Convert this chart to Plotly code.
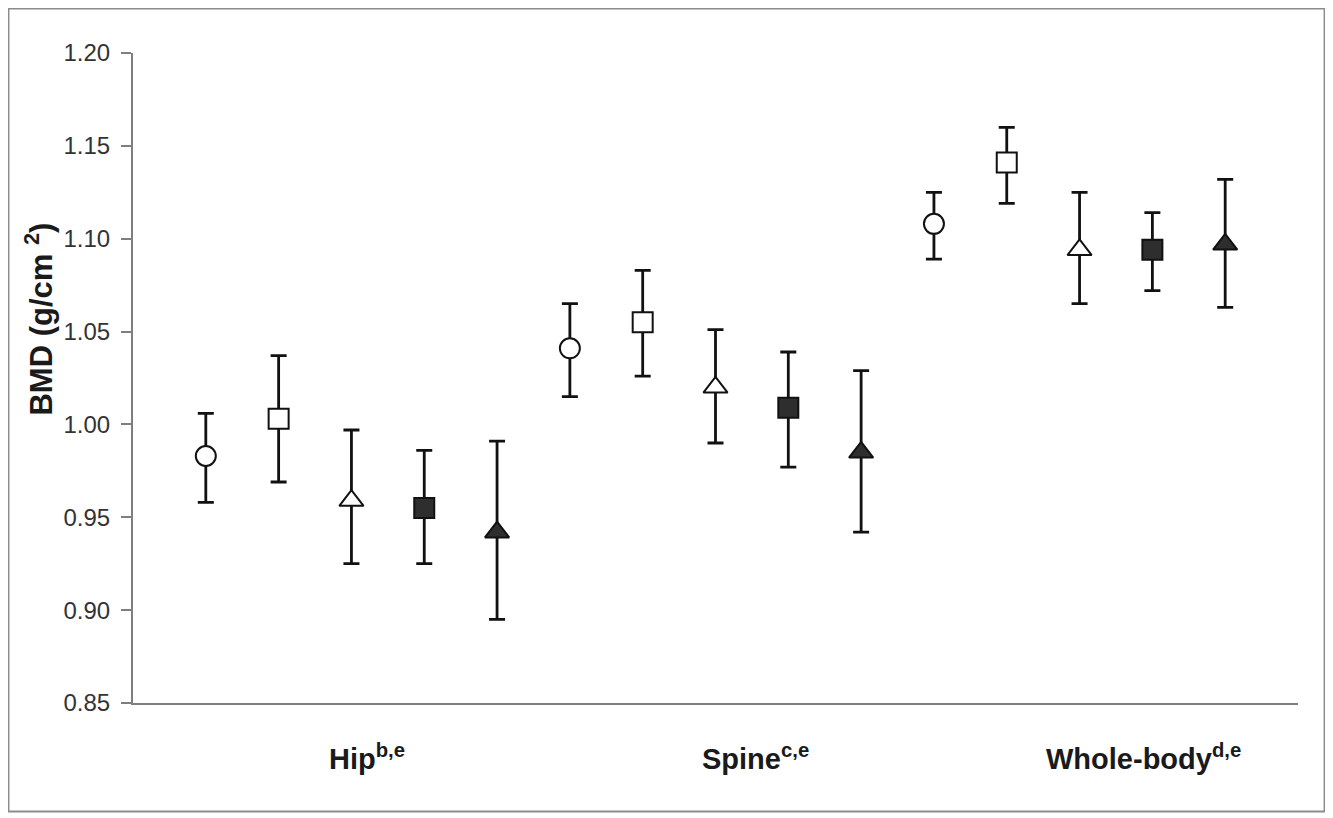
import plotly.graph_objects as go

# ---- data ----
groups = ["Hip", "Spine", "Whole-body"]
group_sup = ["b,e", "c,e", "d,e"]
series_names = ["Group 1", "Group 2", "Group 3", "Group 4", "Group 5"]

# mean BMD per group (Hip, Spine, Whole-body)
means = [
    [0.983, 1.041, 1.108],   # open circle
    [1.003, 1.055, 1.141],   # open square
    [0.959, 1.020, 1.094],   # open triangle
    [0.955, 1.009, 1.094],   # filled square
    [0.942, 0.985, 1.097],   # filled triangle
]
upper = [
    [1.006, 1.065, 1.125],
    [1.037, 1.083, 1.160],
    [0.997, 1.051, 1.125],
    [0.986, 1.039, 1.114],
    [0.991, 1.029, 1.132],
]
lower = [
    [0.958, 1.015, 1.089],
    [0.969, 1.026, 1.119],
    [0.925, 0.990, 1.065],
    [0.925, 0.977, 1.072],
    [0.895, 0.942, 1.063],
]
y_ticks = [0.85, 0.90, 0.95, 1.00, 1.05, 1.10, 1.15, 1.20]

# ---- styles ----
symbols = ["circle", "square", "triangle-up", "square", "triangle-up"]
fills = ["white", "white", "white", "#2e2e2e", "#2e2e2e"]
sizes = [20, 20, 21, 20, 21]
FONT = "Arial, 'Liberation Sans', Helvetica, sans-serif"

n_series = len(series_names)
n_groups = len(groups)
x_max = n_series * n_groups + 1

fig = go.Figure()
for s in range(n_series):
    xs = [g * n_series + s + 1 for g in range(n_groups)]
    ys = means[s]
    plus = [u - m for u, m in zip(upper[s], ys)]
    minus = [m - l for m, l in zip(ys, lower[s])]
    fig.add_trace(go.Scatter(
        x=xs, y=ys, mode="markers", name=series_names[s],
        marker=dict(symbol=symbols[s], size=sizes[s], color=fills[s],
                    line=dict(color="#111111", width=2)),
        error_y=dict(type="data", symmetric=False, array=plus, arrayminus=minus,
                     color="#111111", thickness=2.8, width=8),
        showlegend=False,
    ))

# group labels below the axis
for g in range(n_groups):
    cx = x_max * (g + 0.5) / n_groups
    fig.add_annotation(
        x=cx, y=0, xref="x", yref="paper", xshift=40, yshift=-54,
        text=f"<b>{groups[g]}<sup>{group_sup[g]}</sup></b>",
        showarrow=False, xanchor="center", yanchor="middle",
        font=dict(family=FONT, size=29, color="#1a1a1a"),
    )

# y-axis title
fig.add_annotation(
    x=-0.0815, y=0.59, xref="paper", yref="paper",
    text="<b>BMD (g/cm <sup>2</sup>)</b>", textangle=-90,
    showarrow=False, xanchor="center", yanchor="middle",
    font=dict(family=FONT, size=31, color="#1a1a1a"),
)

# outer frame
fig.add_shape(type="rect", xref="paper", yref="paper",
              x0=-0.1069, x1=1.0228, y0=-0.1670, y1=1.0685,
              line=dict(color="#8c8c8c", width=2), fillcolor="rgba(0,0,0,0)",
              layer="below")

fig.update_layout(
    width=1333, height=818,
    margin=dict(l=125, r=43, t=45, b=123),
    paper_bgcolor="white", plot_bgcolor="white",
    font=dict(family=FONT, color="#222222"),
    xaxis=dict(range=[0, x_max], showgrid=False, zeroline=False,
               showticklabels=False, ticks="",
               showline=True, linecolor="#7f7f7f", linewidth=2),
    yaxis=dict(range=[y_ticks[0], y_ticks[-1]], tickvals=y_ticks,
               tickformat=".2f", showgrid=False, zeroline=False,
               showline=True, linecolor="#7f7f7f", linewidth=2,
               ticks="outside", ticklen=10, tickcolor="#7f7f7f", tickwidth=1.5,
               ticklabelstandoff=6,
               tickfont=dict(family=FONT, size=24, color="#333333")),
)

fig.write_html("out.html")
